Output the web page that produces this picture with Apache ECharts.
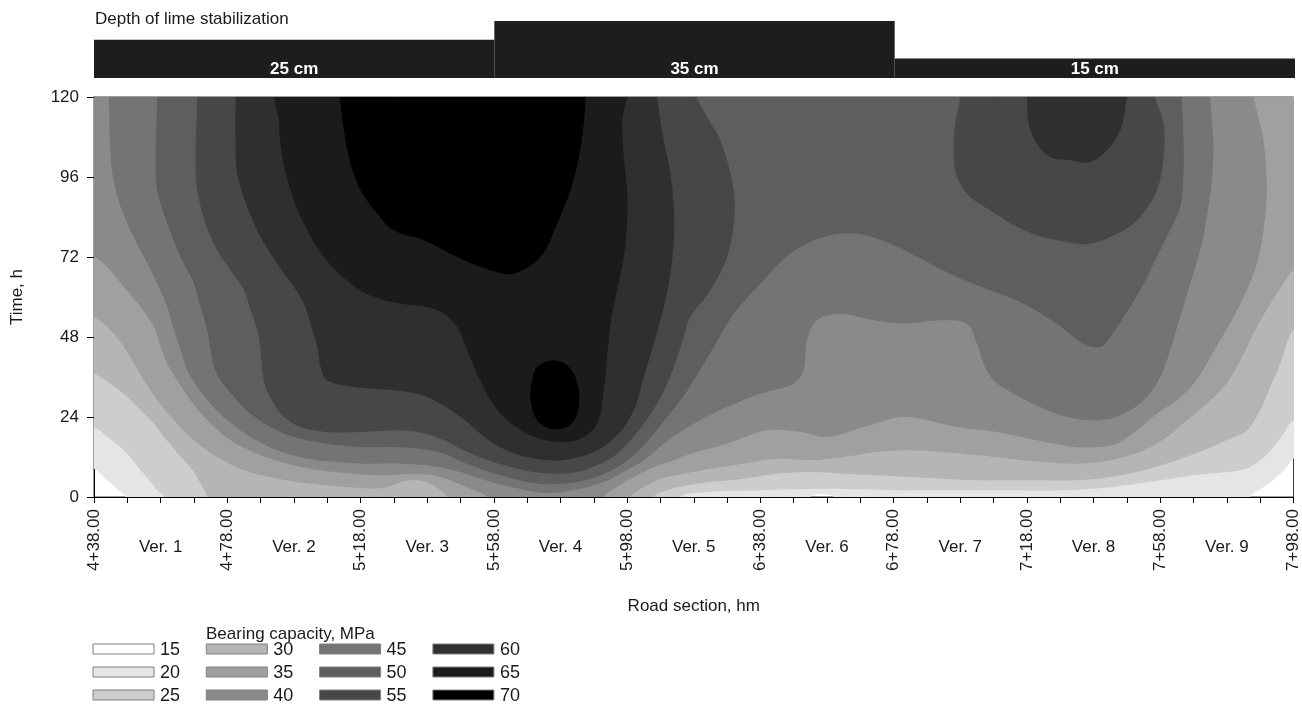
<!DOCTYPE html>
<html>
<head>
<meta charset="utf-8">
<title>Bearing capacity along the road section</title>
<script src="https://cdn.jsdelivr.net/npm/echarts@6/dist/echarts.min.js"></script>
<style>
  html, body { margin: 0; padding: 0; background: #ffffff; }
  #chart { width: 1302px; height: 709px; }
</style>
</head>
<body>
<div id="chart"></div>
<script>
// Road section position: metres measured from station 4+38.00 (0 … 360).
const stationLabels = ['4+38.00', '4+78.00', '5+18.00', '5+58.00', '5+98.00',
                       '6+38.00', '6+78.00', '7+18.00', '7+58.00', '7+98.00'];
const verLabels = ['Ver. 1', 'Ver. 2', 'Ver. 3', 'Ver. 4', 'Ver. 5',
                   'Ver. 6', 'Ver. 7', 'Ver. 8', 'Ver. 9'];

// Lime stabilization depth per sub-section
const depthStart = [0, 120, 240];
const depthEnd = [120, 240, 360];
const depthCm = [25, 35, 15];

// Bearing capacity classes (MPa) and their grey shades
const legendLevels = [15, 20, 25, 30, 35, 40, 45, 50, 55, 60, 65, 70];
const levelColors = ['#ffffff', '#e5e5e5', '#cdcdcd', '#b5b5b5', '#a0a0a0', '#8a8a8a',
                     '#747474', '#5e5e5e', '#474747', '#2f2f2f', '#1b1b1b', '#000000'];

// Contour regions: each outline encloses the area where bearing capacity >= level.
// Points are [position (m from 4+38.00), time (h)].
const contour20 = [[-5,125],[365,125],[365,12],[360,11.5],[358,9],[355,6],[351,3],[347,0],[346,-5],
  [223,-5],[222,0],[218,0.8],[215,0],[214,-5],[10,-5],[9.5,0],[8,1.5],[4,5],[0,8.5],[-5,9]];

const contour25 = [[-5,125],[365,125],[365,23.5],[360,23],[357,19],[354,15],[350,11],[346,8.5],[340,7.5],
  [330,6.5],[320,5],[310,3.5],[300,2.5],[290,2],[270,2],[250,2],[240,2],[230,2.3],[220,2.5],[210,2.3],
  [200,2],[190,1.8],[180,1.2],[176,0],[175,-5],[21.5,-5],[21,0],[19,2],[17,4.5],[14,8],[9,14],[4,18],
  [0,21],[-5,21.5]];

const contour30 = [[-5,125],[365,125],[365,51],[360,50],[358,46],[356,40],[353,33],[350,26],[346,20],
  [340,17],[333,14],[325,11],[315,8],[305,6],[295,5],[285,5],[275,5],[265,5],[255,5.5],[245,6],[235,6.5],
  [225,7],[215,7.5],[205,7],[195,5.5],[185,4.5],[178,3.5],[172,2],[168,0],[167,-5],[35,-5],[34,0],[32,4],
  [30,7.5],[27,11],[24,14.5],[21,18],[18,22],[14,26],[10,30],[5,34],[0,37],[-5,37.5]];

const contour35 = [[-5,125],[365,125],[365,69],[360,68],[357,64],[353,58],[349,51],[346,45],[343,39],
  [339,33],[334,28],[328,23],[322,18],[315,14],[305,11],[295,10],[285,10.5],[275,11.5],[265,12.5],
  [255,13.5],[245,14],[235,13.5],[225,12],[215,11],[205,11.5],[195,10],[185,8.5],[177,7],[170,5.5],
  [165,3],[161,0],[160,-5],[107,-5],[106,0],[104,2],[101,4],[97,5],[92,4.5],[88,3],[84,2.5],[76,3],
  [65,4],[55,5.5],[45,8],[37,12],[30,17],[24,23],[19,29],[15,35],[12,40],[9,45],[5,50],[0,54],[-5,54.5]];

const contour40 = [[-5,125],[-5,72.5],[0,72],[4,69],[9,63],[14,57],[18,51],[20,45],[22,40],[25,35],
  [29,29],[34,23],[41,17],[49,13],[58,10],[68,8],[78,7],[88,6.5],[95,7],[102,6.5],[108,4.5],[114,2],
  [118,0],[119,-5],[152,-5],[153,0],[157,3],[162,6],[168,9],[174,11],[179,13],[190,16],[202,20],
  [212,19.5],[220,18],[231,21],[242,24],[248,23.5],[259,21],[271,19.5],[283,17],[294,15],[301,15],
  [307,16],[313,20],[319,25],[325,29],[330,34],[334,40],[338,47],[342,54],[346,62],[349,70],[351,80],
  [352,92],[351,107],[348,120],[347.5,125]];

const contour45 = [[4.5,125],[4.5,120],[5,102],[6.5,92],[10,82],[15,72],[19,64],[22,57],[24,50],[26,44],
  [28,38],[31,33],[35,28],[40,23],[47,18],[55,14],[64,11.5],[73,10.5],[82,10],[92,10],[100,9.5],
  [108,8],[116,5.5],[125,3],[136,1.2],[146,2.5],[153,4.5],[159,7.5],[165,11],[171,16],[176,19.5],
  [180,22],[190,27],[200,31],[210,34],[213,38],[214,47],[217,53],[224,55],[234,53],[243,52],[254,53],
  [262,52],[265,46],[267,40],[270,35],[276,31],[284,27],[292,24],[299,23],[305,23.5],[311,26],[316,30],
  [320,36],[323,44],[326,54],[329,64],[332,74],[334,84],[335.5,95],[336,105],[335.5,113],[335,120],
  [335,125]];

const contour50 = [[19,125],[19,120],[18.5,102],[19,92],[22,82],[26,72],[30,64],[32,57],[34,50],[35,44],
  [36,39],[38,35],[42,30],[47,25],[53,21],[60,18],[70,16],[80,15],[90,15],[98,14.5],[105,13],[113,9.5],
  [122,6.5],[130,4.5],[137,3.8],[145,4.5],[152,6.5],[158,9.5],[163,13.5],[168,19],[172,24],[176,29],
  [180,35],[186,45],[192,55],[200,64],[209,73],[219,78],[229,79],[239,76],[249,71],[259,66],[269,62],
  [279,58],[289,52],[297,46],[302,45],[305,48],[309,54],[314,62],[319,72],[323,80],[326,87],[327,97],
  [327,107],[326.5,120],[326.5,125]];

const contour55West = [[31,125],[31,120],[30.5,102],[31,92],[33.5,82],[37,74],[41,68],[45,62],[47,56],
  [49,50],[50,44],[50.5,38],[51.5,33],[54,28],[57,24],[62,21],[70,19.5],[80,19.5],[90,20],[97,19.5],
  [104,17.5],[110,14.5],[117,11.5],[125,9],[132,7.5],[138,7],[145,7.5],[152,10],[157,13],[161,17],
  [165,22],[169,28],[172.5,35],[175,42],[177,48],[179,54],[185,62],[190,72],[192,82],[192,92],[188,107],
  [184,114],[181,120],[181,125]];

const contour55East = [[260,125],[260,120],[258.5,112],[258,103],[259,96],[263,90],[269,86],[279,80],
  [289,77],[299,76],[309,80],[314,84],[319,92],[321,102],[321,112],[318.5,120],[318.5,125]];

const contour60West = [[42.5,125],[42.5,120],[42.5,107],[43,97],[46,87],[50,78],[55,70],[60,63],[63,58],
  [65,52],[67,45],[68,39],[70,35],[78,33],[90,32],[100,30],[110,24],[120,16],[130,12],[140,11],
  [150,13.5],[157,18.5],[162,26],[165,36],[168,46],[171,57],[173,67],[174,77],[174,87],[173,97],
  [171,107],[169,120],[169,125]];

const contour60East = [[280,125],[280,120],[280.5,112],[283,106],[287,102],[293,101],[299,100.5],
  [304,104],[308,110],[309.5,117],[309.5,125]];

const contour65 = [[55.5,125],[55.5,112],[56.5,102],[59,92],[63,82],[69,72],[77,64],[84,60],[92,58],
  [100,57],[105,55],[109,51],[112,44],[115,37],[119,29],[124,23],[131,18.5],[139,16.5],[146,17.5],
  [151,22],[153,32],[154,42],[155,52],[157,62],[159,72],[160,82],[160,92],[159,102],[158.5,112],
  [158.5,125]];

const contour70Upper = [[73.8,125],[73.8,120],[75,110],[77,100],[80,92],[85,85],[90,80],[99,77],[109,72],
  [119,68],[126,67],[134,72],[139,82],[143,92],[145.5,102],[147,112],[147.5,120],[147.5,125]];

const contour70Lower = [[133,39],[138,41],[143,38.5],[145.5,32],[145,25],[142,21],[137,20.5],[133,23],
  [131,29],[131.5,35]];

// Painted from the lowest class upwards, so higher classes cover lower ones.
const regions = [
  { level: 20, points: contour20 },
  { level: 25, points: contour25 },
  { level: 30, points: contour30 },
  { level: 35, points: contour35 },
  { level: 40, points: contour40 },
  { level: 45, points: contour45 },
  { level: 50, points: contour50 },
  { level: 55, points: contour55West },
  { level: 55, points: contour55East },
  { level: 60, points: contour60West },
  { level: 60, points: contour60East },
  { level: 65, points: contour65 },
  { level: 70, points: contour70Upper },
  { level: 70, points: contour70Lower }
];

const FONT = "'Liberation Sans', Arial, Helvetica, sans-serif";
const TEXT_COLOR = '#1a1a1a';
const DEPTH_AXIS_FLOOR = 4.7;

const colorOf = level => levelColors[legendLevels.indexOf(level)];

// Legend: 3 rows x 4 columns, filled column by column
const legendGraphics = [];
legendLevels.forEach((lv, i) => {
  const col = Math.floor(i / 3);
  const row = i % 3;
  const x = 93 + col * 113.3;
  const yc = 649 + row * 23;
  legendGraphics.push({
    type: 'rect',
    shape: { x: x, y: yc - 5, width: 61, height: 10 },
    style: { fill: levelColors[i], stroke: '#808080', lineWidth: 1 }
  });
  legendGraphics.push({
    type: 'text',
    x: x + 67, y: yc + 1,
    style: { text: String(lv), verticalAlign: 'middle',
             font: `18px ${FONT}`, fill: TEXT_COLOR }
  });
});

const chart = echarts.init(document.getElementById('chart'), null, { renderer: 'canvas' });

const option = {
  animation: false,
  backgroundColor: '#ffffff',
  grid: [
    { left: 94, top: 97, width: 1201, height: 400, show: true,
      borderColor: '#3c3c3c', borderWidth: 1, backgroundColor: '#ffffff' },
    { left: 94, top: 21, width: 1201, height: 57, show: false }
  ],
  xAxis: [
    {
      gridIndex: 0, type: 'value', min: 0, max: 360, interval: 10, position: 'bottom',
      axisLine: { show: true, onZero: false, lineStyle: { color: '#000', width: 1 } },
      axisTick: { show: true, length: 6, lineStyle: { color: '#000', width: 1 } },
      splitLine: { show: false },
      axisLabel: {
        rotate: 90, margin: 12, fontSize: 17, fontFamily: FONT, color: TEXT_COLOR,
        formatter: v => (v % 40 === 0 ? stationLabels[v / 40] : '')
      },
      name: 'Road section, hm', nameLocation: 'middle', nameGap: 101,
      nameTextStyle: { fontSize: 17, fontFamily: FONT, color: TEXT_COLOR }
    },
    {
      gridIndex: 0, type: 'value', min: 0, max: 360, interval: 20, position: 'bottom',
      axisLine: { show: false }, axisTick: { show: false }, splitLine: { show: false },
      axisLabel: {
        margin: 42, fontSize: 17, fontFamily: FONT, color: TEXT_COLOR,
        formatter: v => (v % 40 === 20 ? verLabels[(v - 20) / 40] : '')
      }
    },
    { gridIndex: 1, type: 'value', min: 0, max: 360, show: false }
  ],
  yAxis: [
    {
      gridIndex: 0, type: 'value', min: 0, max: 120, interval: 24,
      axisLine: { show: true, lineStyle: { color: '#000', width: 1 } },
      axisTick: { show: true, length: 7, lineStyle: { color: '#000', width: 1 } },
      splitLine: { show: false },
      axisLabel: { margin: 15, fontSize: 17, fontFamily: FONT, color: TEXT_COLOR },
      name: 'Time, h', nameLocation: 'middle', nameGap: 68,
      nameTextStyle: { fontSize: 17, fontFamily: FONT, color: TEXT_COLOR }
    },
    { gridIndex: 1, type: 'value', min: DEPTH_AXIS_FLOOR, max: 35, show: false }
  ],
  series: [
    {
      type: 'custom', name: 'Bearing capacity', xAxisIndex: 0, yAxisIndex: 0,
      clip: true, silent: true,
      data: regions.map(() => [0, 0]),
      renderItem: (params, api) => {
        const r = regions[params.dataIndex];
        return {
          type: 'polygon',
          shape: { points: r.points.map(p => api.coord(p)), smooth: 0.35 },
          style: { fill: colorOf(r.level) }
        };
      }
    },
    {
      type: 'custom', name: 'Depth of lime stabilization', xAxisIndex: 2, yAxisIndex: 1,
      silent: true,
      data: depthCm.map((d, i) => [depthStart[i], depthEnd[i], d]),
      renderItem: (params, api) => {
        const topLeft = api.coord([api.value(0), api.value(2)]);
        const bottomRight = api.coord([api.value(1), DEPTH_AXIS_FLOOR]);
        return {
          type: 'group',
          children: [
            {
              type: 'rect',
              shape: { x: topLeft[0], y: topLeft[1],
                       width: bottomRight[0] - topLeft[0], height: bottomRight[1] - topLeft[1] },
              style: { fill: '#1d1d1d' }
            },
            {
              type: 'text',
              style: {
                text: api.value(2) + ' cm',
                x: (topLeft[0] + bottomRight[0]) / 2, y: bottomRight[1] - 9,
                align: 'center', verticalAlign: 'middle',
                font: `bold 17px ${FONT}`, fill: '#ffffff'
              }
            }
          ]
        };
      }
    }
  ],
  graphic: [
    {
      type: 'text', left: 95, top: 11,
      style: { text: 'Depth of lime stabilization', font: `17px ${FONT}`, fill: TEXT_COLOR }
    },
    {
      type: 'text', left: 206, top: 626,
      style: { text: 'Bearing capacity, MPa', font: `17px ${FONT}`, fill: TEXT_COLOR }
    }
  ].concat(legendGraphics)
};

chart.setOption(option);
</script>
</body>
</html>
